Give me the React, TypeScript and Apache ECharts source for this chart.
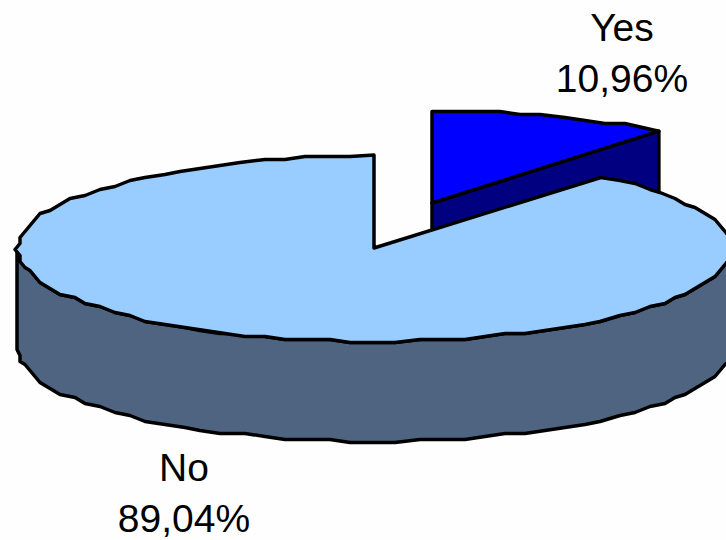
import React, { useEffect, useRef } from "react";
import * as echarts from "echarts";

const categories = ["Yes", "No"];
const shareValues = [10.96, 89.04];
const shareLabels = ["10,96%", "89,04%"];

const topColors = ["#0000FF", "#99CCFF"];
const wallColors = ["#000080", "#4F6480"];
const explodeX = [58, 0];
const explodeY = [-45, 0];
const labelX = [622, 184];
const labelY = [27, 467];

const CX = 374;
const CY = 248;
const RX = 357;
const RY = 93;
const DEPTH = 100;
const LINE = 51;
const STEP = 3.6;
const GRID_X = 5;
const GRID_Y = 3;

const total = shareValues.reduce((a, b) => a + b, 0);

function curve(ox: number, oy: number, from: number, to: number) {
  const pts: number[][] = [];
  const dir = to > from ? 1 : -1;
  const n = Math.max(1, Math.floor(Math.abs(to - from) / STEP));
  for (let i = 0; i <= n; i++) {
    const deg = i === n ? to : from + dir * STEP * i;
    const r = (deg * Math.PI) / 180;
    const x = ox + RX * Math.cos(r);
    const y = oy - RY * Math.sin(r);
    const qy = Math.round(y / GRID_Y) * GRID_Y + 0.5;
    if (i === 0) pts.push([x, qy]);
    else if (i === n) pts.push([x, y]);
    else pts.push([Math.round(x / GRID_X) * GRID_X, qy]);
  }
  return pts;
}

export default function App() {
  const ref = useRef<HTMLDivElement>(null);
  useEffect(() => {
    document.body.style.margin = "0";
    const chart = echarts.init(ref.current!, undefined, { renderer: "svg" });
    const stroke = { stroke: "#000", lineWidth: 3.5, lineJoin: "round" };
    chart.setOption({
      animation: false,
      backgroundColor: "#FEFEFE",
      series: [
        {
          type: "custom",
          coordinateSystem: "none",
          silent: true,
          clip: false,
          data: shareValues.map((v, i) => ({ value: [v], name: categories[i] })),
          renderItem: (params: any, api: any) => {
            const i = params.dataIndex;
            const v = api.value(0);
            const before = shareValues.slice(0, i).reduce((a, b) => a + b, 0);
            // slices run clockwise from the 12 o'clock position
            const from = 90 - (360 * before) / total;
            const to = from - (360 * v) / total;
            const ox = CX + explodeX[i];
            const oy = CY + explodeY[i];
            const top = [[ox, oy], ...curve(ox, oy, from, to)];
            const children: any[] = [];
            if (i === 0) {
              const e = top[top.length - 1];
              children.push({
                type: "polygon",
                shape: {
                  points: [
                    [ox, oy],
                    e,
                    [e[0], e[1] + DEPTH],
                    [ox, oy + DEPTH],
                  ],
                },
                style: { fill: wallColors[i], ...stroke },
              });
            } else {
              const outer = curve(ox, oy, 180, 360);
              children.push({
                type: "polygon",
                shape: {
                  points: [
                    ...outer,
                    ...outer.slice().reverse().map((p) => [p[0], p[1] + DEPTH]),
                  ],
                },
                style: { fill: wallColors[i], ...stroke },
              });
            }
            children.push({
              type: "polygon",
              shape: { points: top },
              style: { fill: topColors[i], ...stroke },
            });
            [categories[i], shareLabels[i]].forEach((t, k) => {
              children.push({
                type: "text",
                x: labelX[i],
                y: labelY[i] + k * LINE,
                style: {
                  text: t,
                  fill: "#000",
                  font: '39px "Liberation Sans", Arial, sans-serif',
                  align: "center",
                  verticalAlign: "middle",
                },
              });
            });
            return { type: "group", children };
          },
        },
      ],
    });
    return () => chart.dispose();
  }, []);
  return <div ref={ref} style={{ width: 726, height: 540 }} />;
}
